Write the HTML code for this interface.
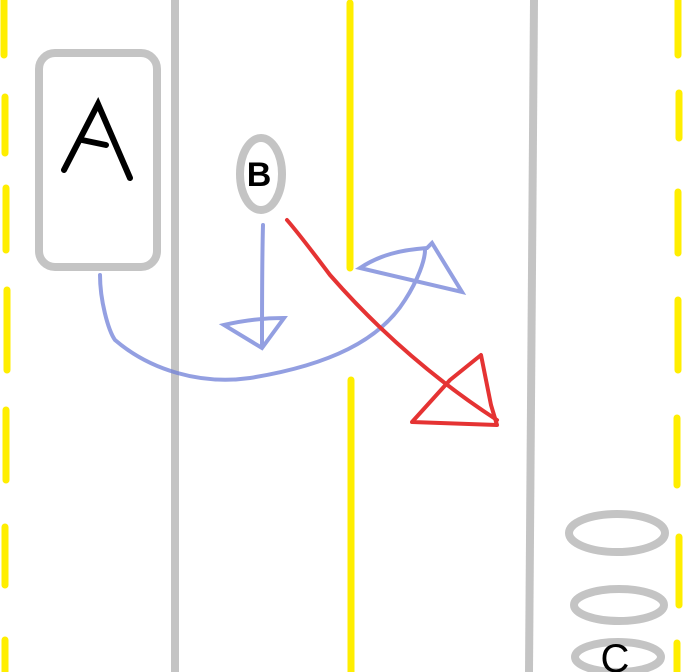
<!DOCTYPE html>
<html><head><style>body{margin:0;background:#fff}svg{display:block}</style></head><body>
<svg width="684" height="672" viewBox="0 0 684 672" xmlns="http://www.w3.org/2000/svg">
<g stroke="#ffee00" stroke-width="7" stroke-linecap="round" fill="none">
<path d="M4 0V55M5 97V153M6 188V250M7 290V370M6 410V480M5 527V585M5 640V672"/>
<path d="M678 0V55M679 93V138M678 192V253M678 300V370M677 418V485M679 537V605M677 643V672"/>
<path d="M350 3V268M351 380V672"/>
</g>
<g stroke="#c4c4c4" stroke-width="8" fill="none">
<path d="M175 0V672"/>
<path d="M534 0L529 672"/>
<rect x="39" y="53" width="118" height="214" rx="16"/>
<ellipse cx="261" cy="174" rx="21" ry="36"/>
<ellipse cx="617" cy="533" rx="48" ry="19"/>
<ellipse cx="619" cy="605" rx="45" ry="16"/>
<ellipse cx="618" cy="657" rx="43" ry="15"/>
</g>
<g stroke="#000" stroke-width="6" stroke-linecap="round" fill="none">
<path d="M64 170L98 104L130 178M82 140L106 145"/>
</g>
<text x="259" y="186" font-family="Liberation Sans,sans-serif" font-size="34" font-weight="bold" text-anchor="middle">B</text>
<text x="615" y="672" font-family="Liberation Sans,sans-serif" font-size="40" text-anchor="middle">C</text>
<g stroke="#7080d8" stroke-width="4" fill="none" stroke-linecap="round" opacity="0.75">
<path d="M100 275C100 300 108 330 115 340C150 370 200 385 250 378C330 365 380 340 405 300C418 280 425 260 425 250"/>
<path d="M360 268C380 255 400 250 427 248L432 243L462 292Z"/>
<path d="M263 225C262 260 262 300 262 345"/>
<path d="M224 325C245 320 265 318 284 318L262 348Z"/>
</g>
<g stroke="#e53333" stroke-width="4" fill="none" stroke-linecap="round" stroke-linejoin="round">
<path d="M287 220C300 235 315 255 330 275C365 315 420 370 497 420"/>
<path d="M481 355L491 405L497 425L412 422L450 380Z"/>
</g>
</svg>
</body></html>
